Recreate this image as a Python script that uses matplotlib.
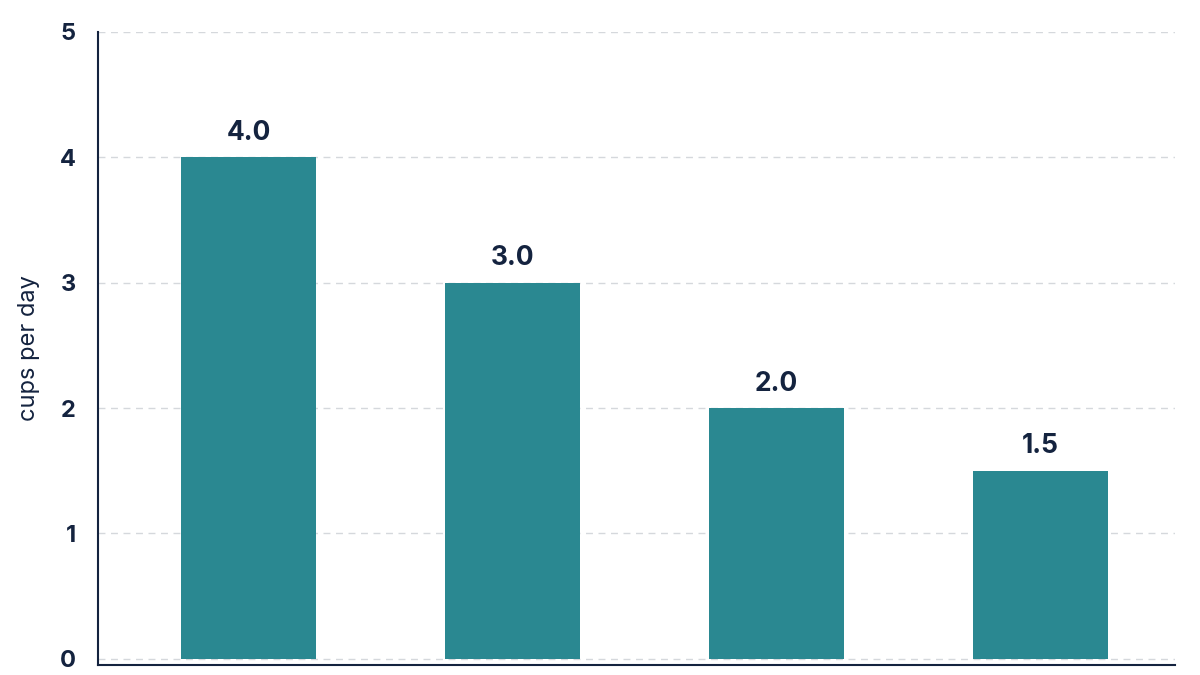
import matplotlib
matplotlib.use("Agg")
import matplotlib.pyplot as plt

categories = ["A", "B", "C", "D"]
values = [4.0, 3.0, 2.0, 1.5]
yticks = [0, 1, 2, 3, 4, 5]

navy = "#14233f"
plt.rcParams['font.family'] = ['Inter', 'DejaVu Sans']
fig = plt.figure(figsize=(12, 6.75), dpi=100)
ax = fig.add_axes([98/1200, 10/675, (1175-98)/1200, (665-32)/675])
x = list(range(len(categories)))
ax.bar(x, values, width=0.51, color="#2a8891", zorder=3)
for xi, v in zip(x, values):
    ax.text(xi, v + 0.09, f"{v:.1f}", ha="center", va="bottom", fontsize=19,
            fontweight="bold", color=navy)
ax.set_xlim(-0.57, 3.51)
ax.set_ylim(-0.05, 4.98)
ax.set_yticks(yticks)
ax.set_yticklabels([str(t) for t in yticks], fontsize=17, fontweight="bold", color=navy)
ax.set_xticks(x)
ax.set_xticklabels([])
ax.tick_params(axis="x", length=0)
ax.tick_params(axis="y", length=0, pad=16)
ax.yaxis.grid(True, linestyle=(0, (5, 4)), color="#d5d8dc", linewidth=1, zorder=0)
for s in ["top", "right"]:
    ax.spines[s].set_visible(False)
for s in ["left", "bottom"]:
    ax.spines[s].set_color(navy)
    ax.spines[s].set_linewidth(1.5)
ax.set_ylabel("cups per day", fontsize=17, color=navy, labelpad=14)
fig.savefig("out.png", dpi=100)
